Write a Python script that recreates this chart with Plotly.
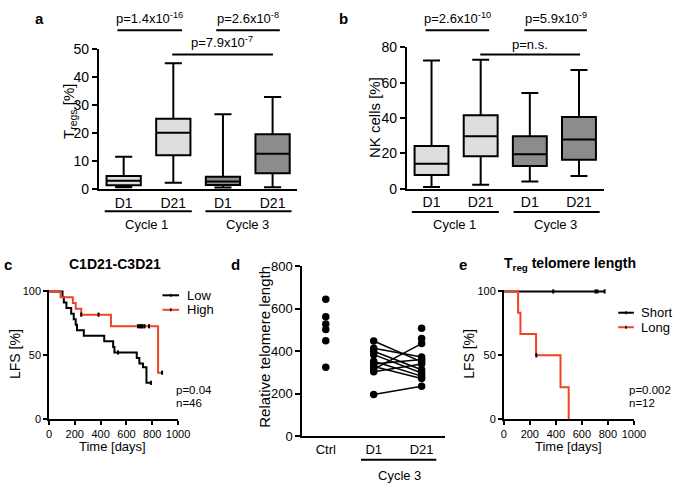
import plotly.graph_objects as go

W, H = 685, 490
FONT = "Arial, Liberation Sans, Helvetica, sans-serif"
RED = "#ee4423"
LIGHT = "#dedede"
DARK = "#8c8c8c"

# ---------------- data ----------------
box_pos = [0, 1, 2, 3]
box_labels = ["D1", "D21", "D1", "D21"]
box_fill = [LIGHT, LIGHT, DARK, DARK]

# Panel a: Tregs [%]  (min, q1, median, q3, max)
a_min = [0.6, 2.2, 0.5, 0.6]
a_q1 = [1.3, 12.0, 1.4, 5.6]
a_med = [2.9, 20.0, 2.6, 12.5]
a_q3 = [4.6, 25.0, 4.3, 19.5]
a_max = [11.5, 44.8, 26.6, 32.8]

# Panel b: NK cells [%]
b_min = [0.9, 2.2, 4.0, 7.1]
b_q1 = [7.7, 18.3, 12.8, 16.4]
b_med = [14.1, 29.6, 19.5, 27.8]
b_q3 = [24.1, 41.5, 29.6, 40.5]
b_max = [72.5, 73.0, 54.2, 67.2]

# Panel c: Kaplan-Meier C1D21-C3D21
low_t = [0, 105, 115, 135, 172, 192, 207, 217, 270, 428, 497, 507, 680, 700, 728, 755, 790]
low_s = [100, 95.7, 91.3, 87.0, 82.6, 78.3, 73.9, 69.6, 65.2, 60.9, 56.5, 52.2, 47.8, 43.5, 40.6, 28.4, 28.4]
low_cens_t = [535, 790]
low_cens_s = [52.2, 28.4]
high_t = [0, 90, 185, 207, 250, 480, 845, 876]
high_s = [100, 95.5, 90.9, 86.4, 81.8, 72.7, 36.4, 36.4]
high_cens_t = [250, 384, 690, 705, 715, 725, 740, 775, 876]
high_cens_s = [81.8, 81.8, 72.7, 72.7, 72.7, 72.7, 72.7, 72.7, 36.4]

# Panel d: relative telomere length
d_cats = ["Ctrl", "D1", "D21"]
ctrl_vals = [645, 562, 528, 502, 450, 325]
d1_vals = [448, 414, 400, 384, 353, 340, 328, 316, 304, 197]
d21_paired = [350, 373, 313, 298, 283, 361, 272, 436, 340, 235]
d21_unpaired = [508, 460]

# Panel e: Treg telomere length KM
short_t = [0, 775]
short_s = [100, 100]
short_cens_t = [380, 705, 720, 775]
short_cens_s = [100, 100, 100, 100]
long_t = [0, 110, 128, 248, 436, 499]
long_s = [100, 83.3, 66.7, 50, 25, 0]
long_cens_t = [250]
long_cens_s = [50]

# ---------------- helpers ----------------
def px(x):
    return x / W

def py(y):
    return 1 - y / H

shapes = []
annotations = []

def hline(x0, x1, y, color="black", width=2):
    shapes.append(dict(type="line", xref="paper", yref="paper",
                       x0=px(x0), x1=px(x1), y0=py(y), y1=py(y),
                       line=dict(color=color, width=width)))

def vline(x, y0, y1, color="black", width=1.5):
    shapes.append(dict(type="line", xref="paper", yref="paper",
                       x0=px(x), x1=px(x), y0=py(y0), y1=py(y1),
                       line=dict(color=color, width=width)))

def text(x, y, s, size=13, anchor="center", bold=False, angle=0):
    if bold:
        s = "<b>" + s + "</b>"
    annotations.append(dict(xref="paper", yref="paper", x=px(x), y=py(y), text=s,
                            showarrow=False, xanchor=anchor, yanchor="middle",
                            textangle=angle, font=dict(size=size, color="black", family=FONT)))

fig = go.Figure()

CENS = dict(symbol="line-ns-open", size=3, color="black", line=dict(color="black", width=2))

# ---------------- box panels ----------------
def add_boxes(xa, ya, mins, q1s, meds, q3s, maxs):
    for i in range(4):
        fig.add_trace(go.Box(
            x=[box_pos[i]], q1=[q1s[i]], median=[meds[i]], q3=[q3s[i]],
            lowerfence=[mins[i]], upperfence=[maxs[i]],
            width=0.69, whiskerwidth=0.5, fillcolor=box_fill[i],
            line=dict(color="black", width=2), boxpoints=False,
            xaxis=xa, yaxis=ya, showlegend=False, hoverinfo="skip"))

add_boxes("x", "y", a_min, a_q1, a_med, a_q3, a_max)
add_boxes("x2", "y2", b_min, b_q1, b_med, b_q3, b_max)

# ---------------- KM panel c ----------------
fig.add_trace(go.Scatter(x=low_t, y=low_s, mode="lines", line=dict(color="black", width=2, shape="hv"),
                         xaxis="x3", yaxis="y3", showlegend=False))
fig.add_trace(go.Scatter(x=high_t, y=high_s, mode="lines", line=dict(color=RED, width=2, shape="hv"),
                         xaxis="x3", yaxis="y3", showlegend=False))
fig.add_trace(go.Scatter(x=low_cens_t, y=low_cens_s, mode="markers", marker=CENS,
                         xaxis="x3", yaxis="y3", showlegend=False, cliponaxis=False))
fig.add_trace(go.Scatter(x=high_cens_t, y=high_cens_s, mode="markers", marker=CENS,
                         xaxis="x3", yaxis="y3", showlegend=False, cliponaxis=False))

# ---------------- panel d ----------------
fig.add_trace(go.Scatter(x=[0] * len(ctrl_vals), y=ctrl_vals, mode="markers",
                         marker=dict(color="black", size=7.5), xaxis="x4", yaxis="y4", showlegend=False))
for v1, v2 in zip(d1_vals, d21_paired):
    fig.add_trace(go.Scatter(x=[1, 2], y=[v1, v2], mode="lines+markers",
                             line=dict(color="black", width=1.5),
                             marker=dict(color="black", size=7.5),
                             xaxis="x4", yaxis="y4", showlegend=False))
fig.add_trace(go.Scatter(x=[2] * len(d21_unpaired), y=d21_unpaired, mode="markers",
                         marker=dict(color="black", size=7.5), xaxis="x4", yaxis="y4", showlegend=False))

# ---------------- KM panel e ----------------
fig.add_trace(go.Scatter(x=short_t, y=short_s, mode="lines", line=dict(color="black", width=2, shape="hv"),
                         xaxis="x5", yaxis="y5", showlegend=False))
fig.add_trace(go.Scatter(x=long_t, y=long_s, mode="lines", line=dict(color=RED, width=2, shape="hv"),
                         xaxis="x5", yaxis="y5", showlegend=False))
fig.add_trace(go.Scatter(x=short_cens_t, y=short_cens_s, mode="markers", marker=CENS,
                         xaxis="x5", yaxis="y5", showlegend=False, cliponaxis=False))
fig.add_trace(go.Scatter(x=long_cens_t, y=long_cens_s, mode="markers", marker=CENS,
                         xaxis="x5", yaxis="y5", showlegend=False, cliponaxis=False))

# ---------------- axes ----------------
def ax(domain, rng, **kw):
    d = dict(domain=domain, range=rng, showline=True, linecolor="black", linewidth=2,
             ticks="outside", ticklen=5, tickwidth=2, tickcolor="black",
             showgrid=False, zeroline=False, fixedrange=True,
             tickfont=dict(size=14, color="black", family=FONT))
    d.update(kw)
    return d

small = dict(ticklen=4, tickwidth=1.5, linewidth=1.5, tickfont=dict(size=11, color="black", family=FONT))
# KM y range extended a bit so the 100 % line is not clipped; domain keeps 100 at the same pixel
KM_TOP = 101.5
km_top_px = 425 - 132 * KM_TOP / 100

layout = dict(
    width=W, height=H, margin=dict(l=0, r=0, t=0, b=0),
    paper_bgcolor="white", plot_bgcolor="white",
    font=dict(family=FONT, color="black"),
    showlegend=False,
    xaxis=ax([px(98), px(301)], [-0.5, 3.5], ticks="", tickvals=box_pos, ticktext=box_labels, anchor="y"),
    yaxis=ax([py(187), py(42)], [0, 50], tickvals=[0, 10, 20, 30, 40, 50], anchor="x"),
    xaxis2=ax([px(413), px(614)], [-0.5, 3.5], ticks="", tickvals=box_pos, ticktext=box_labels, anchor="y2"),
    yaxis2=ax([py(186.7), py(40.7)], [0, 80], tickvals=[0, 20, 40, 60, 80], anchor="x2"),
    xaxis3=ax([px(47), px(179)], [0, 1000], tickvals=[0, 200, 400, 600, 800, 1000], anchor="y3", **small),
    yaxis3=ax([py(425), py(km_top_px)], [0, KM_TOP], tickvals=[0, 50, 100], anchor="x3", **small),
    xaxis4=ax([px(306), px(452)], [-0.49, 2.49], ticks="", tickvals=[0, 1, 2], ticktext=d_cats, anchor="y4",
              tickfont=dict(size=13, color="black", family=FONT)),
    yaxis4=ax([py(442.7), py(267)], [0, 800], tickvals=[0, 200, 400, 600, 800], anchor="x4",
              tickfont=dict(size=13, color="black", family=FONT)),
    xaxis5=ax([px(512), px(645)], [0, 1000], tickvals=[0, 200, 400, 600, 800, 1000], anchor="y5", **small),
    yaxis5=ax([py(425), py(km_top_px)], [0, KM_TOP], tickvals=[0, 50, 100], anchor="x5", **small),
)

# ---------------- panel a decorations ----------------
text(37, 11, "a", size=15, bold=True)
text(68, 107, "T<sub>regs</sub> [%]", size=15, angle=-90)
hline(117, 183, 23)
text(150, 10, "p=1.4x10<sup>-16</sup>", size=13)
hline(218, 283, 23)
text(250, 10, "p=2.6x10<sup>-8</sup>", size=13)
hline(173, 276, 48)
text(224, 35, "p=7.9x10<sup>-7</sup>", size=13)
hline(104, 193, 210)
hline(207, 295, 210)
text(147, 224, "Cycle 1", size=13)
text(250, 224, "Cycle 3", size=13)

# ---------------- panel b decorations ----------------
text(348, 11, "b", size=15, bold=True)
text(380, 113, "NK cells [%]", size=15, angle=-90)
hline(432, 497, 23)
text(465, 10, "p=2.6x10<sup>-10</sup>", size=13)
hline(533, 597, 23)
text(565, 10, "p=5.9x10<sup>-9</sup>", size=13)
hline(488, 590, 48)
text(539, 38, "p=n.s.", size=13)
hline(418, 507, 211)
hline(522, 610, 211)
text(462, 224, "Cycle 1", size=13)
text(565, 224, "Cycle 3", size=13)

# ---------------- panel c decorations ----------------
text(5, 265, "c", size=15, bold=True)
text(115, 265, "C1D21-C3D21", size=14, bold=True)
text(13, 358, "LFS [%]", size=14, angle=-90)
text(112, 453, "Time [days]", size=13)
hline(163, 180, 297, color="black", width=2)
vline(171.5, 295.5, 298.5)
text(186, 297, "Low", size=13, anchor="left")
hline(163, 180, 312, color=RED, width=2)
vline(171.5, 310.5, 313.5)
text(186, 312, "High", size=13, anchor="left")
text(175, 395, "p=0.04", size=11.5, anchor="left")
text(175, 408, "n=46", size=11.5, anchor="left")

# ---------------- panel d decorations ----------------
text(238, 265, "d", size=15, bold=True)
text(267, 350, "Relative telomere length", size=15, angle=-90)
hline(366, 443, 467)
text(405, 483, "Cycle 3", size=13)

# ---------------- panel e decorations ----------------
text(470, 265, "e", size=15, bold=True)
text(580, 265, "T<sub>reg</sub> telomere length", size=14, bold=True)
text(477, 358, "LFS [%]", size=14, angle=-90)
text(578, 453, "Time [days]", size=13)
hline(629, 645, 315, color="black", width=2)
vline(637, 313.5, 316.5)
text(650, 315, "Short", size=13, anchor="left")
hline(629, 645, 330, color=RED, width=2)
vline(637, 328.5, 331.5)
text(650, 330, "Long", size=13, anchor="left")
text(638, 395, "p=0.002", size=11.5, anchor="left")
text(638, 408, "n=12", size=11.5, anchor="left")

layout["shapes"] = shapes
layout["annotations"] = annotations
fig.update_layout(**layout)

fig.write_html(
    "out.html",
    config={"displayModeBar": False, "staticPlot": False},
    post_script="document.body.style.margin='0px';document.body.style.padding='0px';"
                "document.documentElement.style.overflow='hidden';document.body.style.overflow='hidden';",
)
